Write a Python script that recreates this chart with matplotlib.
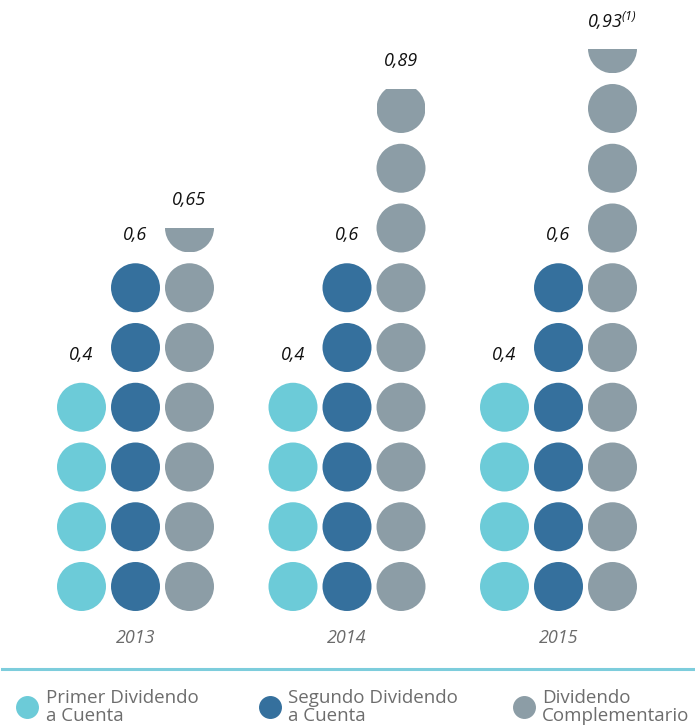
import matplotlib
matplotlib.use("Agg")
import matplotlib.pyplot as plt
from matplotlib.patches import Circle, Rectangle
from matplotlib.lines import Line2D

plt.rcParams['font.family'] = ['Open Sans', 'DejaVu Sans']
plt.rcParams['mathtext.fontset'] = 'custom'
plt.rcParams['mathtext.rm'] = 'Open Sans:italic'
plt.rcParams['mathtext.it'] = 'Open Sans:italic'

# data
years = ['2013', '2014', '2015']
series = ['Primer Dividendo\na Cuenta', 'Segundo Dividendo\na Cuenta', 'Dividendo\nComplementario']
# circles drawn per column (1 circle = 0,10 EUR)
primer_units = [4, 4, 4]
segundo_units = [6, 6, 6]
compl_units = [6.5, 8.9, 9.5]
primer_labels = ['0,4', '0,4', '0,4']
segundo_labels = ['0,6', '0,6', '0,6']
compl_labels = ['0,65', '0,89', '0,93$^{(1)}$']
colors = ['#6ccbd8', '#35709d', '#8c9da6']

units = [primer_units, segundo_units, compl_units]
labels = [primer_labels, segundo_labels, compl_labels]

W, H = 695, 728
fig = plt.figure(figsize=(W / 100, H / 100), dpi=100)
ax = fig.add_axes([0, 0, 1, 1])
ax.axis('off')

ppu = 59.75              # pixels per row
ax.set_xlim(-135.5 / ppu, (W - 135.5) / ppu)
ax.set_ylim(0.5 - (H - 586.5) / ppu, 0.5 + 586.5 / ppu)

r = 0.41
col_step = 54 / ppu
group_step = 211.5 / ppu

for g, year in enumerate(years):
    xc = g * group_step
    for s in range(3):
        x = xc + (s - 1) * col_step
        n = units[s][g]
        k = int(n)
        frac = n - k
        for i in range(k):
            ax.add_patch(Circle((x, i + 0.5), r, color=colors[s], lw=0))
        if frac > 0:
            c = Circle((x, k + 0.5), r, color=colors[s], lw=0)
            ax.add_patch(c)
            clip = Rectangle((x - r, k + 0.5 - r), 2 * r, frac * 2 * r,
                             transform=ax.transData)
            c.set_clip_path(clip)
            top = k + 0.5 - r + frac * 2 * r
        else:
            top = n - 0.5 + r
        ax.text(x, top + 0.47, labels[s][g], ha='center', va='center',
                fontsize=13, style='italic', color='#111111')
    ax.text(xc, -0.36, year, ha='center', va='center', fontsize=13,
            style='italic', color='#6b6b6b')

# separator line
fig.add_artist(Line2D([2 / W, 1], [1 - 668.5 / H, 1 - 668.5 / H],
                      transform=fig.transFigure, color='#7dcddc', lw=2.2))

# legend
leg_x = [27.5, 269.5, 523.5]
for s in range(3):
    fig.add_artist(Line2D([leg_x[s] / W], [1 - 706.5 / H], marker='o',
                          markersize=15.5, color=colors[s], lw=0,
                          transform=fig.transFigure))
    fig.text((leg_x[s] + 18.5) / W, 1 - 707 / H, series[s], ha='left',
             va='center', fontsize=13.5, color='#6d6d6d', linespacing=0.98)

fig.savefig('out.png', dpi=100)
